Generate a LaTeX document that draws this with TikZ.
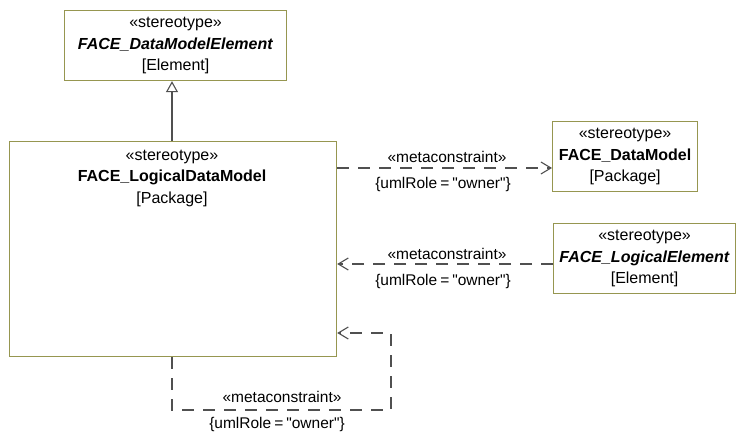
\documentclass[tikz,border=0pt]{standalone}
\usepackage{fontspec}
\setmainfont{Liberation Sans}
\usetikzlibrary{arrows.meta}
\definecolor{boxc}{RGB}{150,150,80}
\definecolor{linec}{RGB}{80,80,80}
\newcommand{\owner}{\{umlRole\hspace{3pt}=\hspace{3pt}\textquotedbl owner\textquotedbl\}}
\begin{document}
\begin{tikzpicture}[x=1pt,y=-1pt,
  every node/.style={font=\fontsize{16pt}{21.5pt}\selectfont, inner sep=0pt, align=center},
  umlbox/.style={draw=boxc, line width=1.2pt, fill=white, anchor=north west},
  conn/.style={draw=linec, line width=1.1pt},
  dep/.style={conn, dash pattern=on 12pt off 9pt, -{Straight Barb[length=10pt,width=12pt,line width=1.1pt]}},
  gen/.style={conn, -{Triangle[open,length=11pt,width=12pt,line width=1.1pt]}},
  lbl/.style={text=black, font=\fontsize{15.5pt}{18pt}\selectfont}]
\useasboundingbox (0,0) rectangle (737,435);
\fill[white] (0,0) rectangle (737,435);

% boxes
\node[umlbox, minimum width=222pt, minimum height=70pt] (dme) at (64,10) {};
\node (dmet) at (dme.center) {«stereotype»\\\textbf{\textit{FACE\_DataModelElement}}\\{[}Element{]}};

\node[umlbox, minimum width=327pt, minimum height=215pt] (ldm) at (9,141) {};
\node (ldmt) at (172,178) {«stereotype»\\\textbf{FACE\_LogicalDataModel}\\{[}Package{]}};

\node[umlbox, minimum width=145pt, minimum height=70pt] (dm) at (552,121) {};
\node (dmt) at (dm.center) {«stereotype»\\\textbf{FACE\_DataModel}\\{[}Package{]}};

\node[umlbox, minimum width=182pt, minimum height=70pt] (le) at (553,223) {};
\node (let) at (le.center) {«stereotype»\\\textbf{\textit{FACE\_LogicalElement}}\\{[}Element{]}};

% generalization
\coordinate (gx) at (172,0);
\draw[gen] (ldm.north -| gx) -- (dme.south -| gx);

% dependency 1
\coordinate (y1) at (0,168);
\draw[dep] (ldm.east |- y1) -- (dm.west |- y1);
\node[lbl] (l1a) at (447,157) {«metaconstraint»};
\node[lbl] (l1b) at (443,184) {\owner};

% dependency 2
\coordinate (y2) at (0,264);
\draw[dep] (le.west |- y2) -- (ldm.east |- y2);
\node[lbl] (l2a) at (447,254) {«metaconstraint»};
\node[lbl] (l2b) at (443,281) {\owner};

% self dependency
\coordinate (c1) at (172,410);
\coordinate (c2) at (391,410);
\coordinate (c3) at (391,333);
\draw[dep] (ldm.south -| c1) -- (c1) -- (c2) -- (c3) -- (ldm.east |- c3);
\node[lbl] (l3a) at (282,397) {«metaconstraint»};
\node[lbl] (l3b) at (277,424) {\owner};
\end{tikzpicture}
\end{document}
